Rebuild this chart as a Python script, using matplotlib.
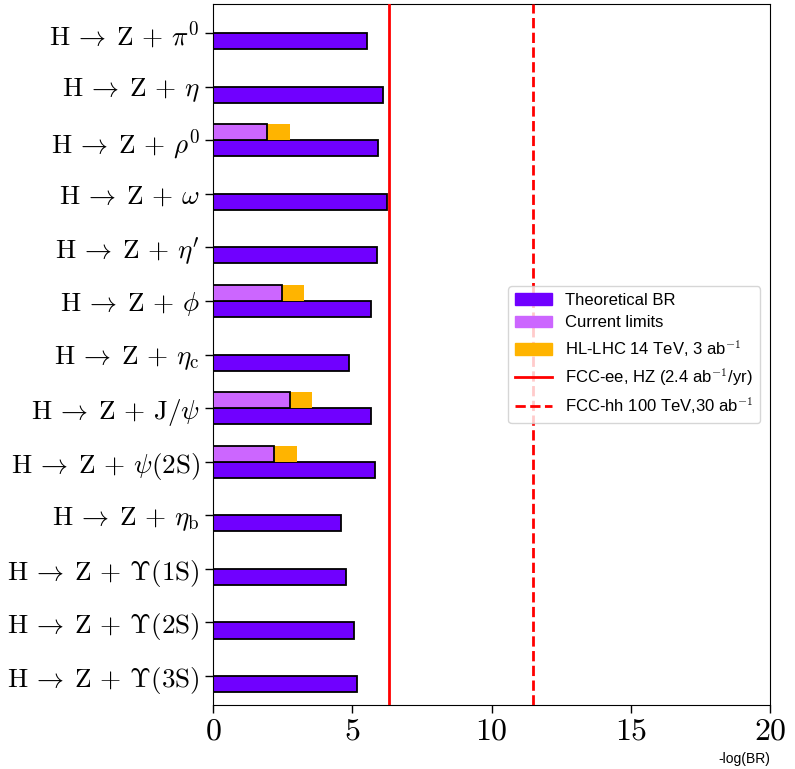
from matplotlib import pyplot as plt
from matplotlib.patches import Patch
from matplotlib.lines import Line2D
import numpy as np

plt.rcParams['mathtext.fontset'] = 'cm'
plt.rcParams['font.family'] = ['Liberation Sans', 'DejaVu Sans']

mesons = [r'\pi^0', r'\eta', r'\rho^0', r'\omega', r"\eta'", r'\phi', r'\eta_\mathrm{c}',
          r'\mathrm{J}/\psi', r'\psi(2\mathrm{S})', r'\eta_\mathrm{b}',
          r'\Upsilon(1\mathrm{S})', r'\Upsilon(2\mathrm{S})', r'\Upsilon(3\mathrm{S})']
theory = [5.52, 6.09, 5.94, 6.25, 5.89, 5.67, 4.87, 5.67, 5.83, 4.58, 4.77, 5.06, 5.18]
# current limits / HL-LHC projection (nan = none)
current = [np.nan, np.nan, 1.93, np.nan, np.nan, 2.46, np.nan, 2.75, 2.19, np.nan, np.nan, np.nan, np.nan]
hllhc = [np.nan, np.nan, 2.77, np.nan, np.nan, 3.27, np.nan, 3.55, 3.01, np.nan, np.nan, np.nan, np.nan]
fcc_ee = 6.3
fcc_hh = 11.5

c_th, c_cur, c_hl = '#7000ff', '#cc66ff', '#ffb400'

fig = plt.figure(figsize=(7.95, 7.69), dpi=100)
ax = fig.add_axes([0.268, 0.0832, 0.7006, 0.9116])
yy = np.arange(len(mesons))

ax.barh(yy, theory, height=0.3, align='edge', color=c_th, edgecolor='black', linewidth=1.3, zorder=2)
ax.barh(yy, hllhc, height=-0.3, align='edge', color=c_hl, linewidth=0, zorder=2)
ax.barh(yy, current, height=-0.3, align='edge', color=c_cur, edgecolor='black', linewidth=1.3, zorder=3)
ax.axvline(fcc_ee, color='red', lw=2, zorder=4)
ax.axvline(fcc_hh, color='red', lw=2, ls='--', zorder=4)

ax.set_yticks(yy)
ax.set_yticklabels([r'$\mathrm{H}\,\rightarrow\;\mathrm{Z}\,+\,' + m + '$' for m in mesons], fontsize=19.5)
ax.set_ylim(12.54, -0.54)
ax.set_xlim(0, 20)
ax.set_xticks([0, 5, 10, 15, 20])
ax.set_xticklabels(['$%d$' % v for v in [0, 5, 10, 15, 20]], fontsize=23)
ax.tick_params(axis='x', pad=2)
ax.set_xlabel('-log(BR)', loc='right', fontsize=10, labelpad=4)
ax.tick_params(axis='both', length=6, width=1)

handles = [Patch(color=c_th), Patch(color=c_cur), Patch(color=c_hl),
           Line2D([], [], color='red', lw=2), Line2D([], [], color='red', lw=2, ls='--')]
labels = ['Theoretical BR', 'Current limits', r'HL-LHC 14 TeV, 3 ab$^{-1}$',
          r'FCC-ee, HZ (2.4 ab$^{-1}$/yr)', r'FCC-hh 100 TeV,30 ab$^{-1}$']
ax.legend(handles, labels, loc='center right', fontsize=12, handlelength=2.2,
          labelspacing=0.45, borderaxespad=0.6)

fig.savefig('out.png', dpi=100)
